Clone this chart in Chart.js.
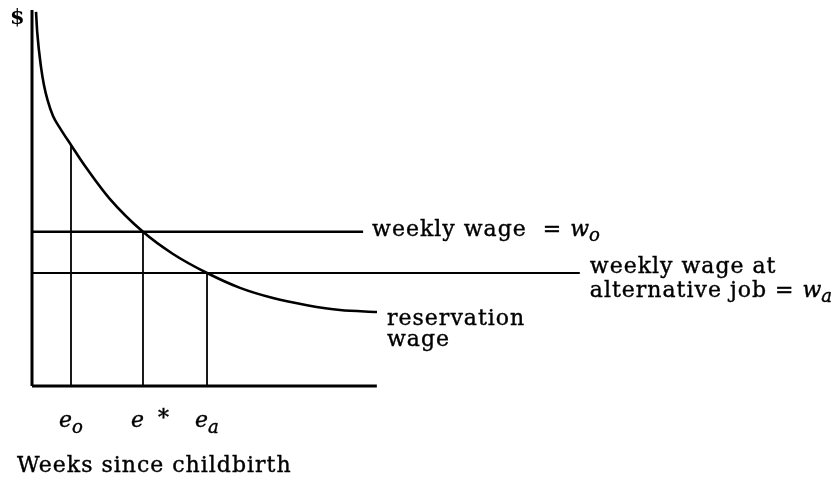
<!DOCTYPE html>
<html>
<head>
<meta charset="utf-8">
<script src="https://cdn.jsdelivr.net/npm/chart.js@4.4.0/dist/chart.umd.min.js"></script>
<style>
body { margin: 0; background: #fff; }
</style>
</head>
<body>
<canvas id="c_wage" width="838" height="482"></canvas>
<script>
// reservation wage curve, x = weeks since childbirth, y = $ (arbitrary units)
var curveWeeks = [0.73, 0.96, 1.64, 2.18, 2.82, 3.82, 5.09, 7.09, 9.64, 14.18, 20.18, 25.64, 31.82, 37.82, 43.82, 50.0, 56.0, 62.73];
var curveWage  = [99.5, 93.9, 84.8, 80.0, 76.1, 71.8, 68.6, 64.1, 58.5, 49.7, 41.0, 35.1, 30.05, 26.1, 23.4, 21.5, 20.2, 19.7];

// horizontal wage lines: w_o and w_a
var wageLevel = [41.0, 30.05];
var wageLineEnd = [60.2, 99.6];

// vertical drop lines at e_o, e*, e_a
var markWeeks = [7.09, 20.18, 31.82];
var markTop = [64.1, 41.0, 30.05];
var markNames = ["o", "*", "a"];

// axes
var xAxisEnd = 62.7;
var yAxisTop = 100;

var SERIF = "'DejaVu Serif', serif";
var FS = 22;

function seg(x0, y0, x1, y1, w) {
    return {
        data: [{x: x0, y: y0}, {x: x1, y: y1}],
        borderColor: "#000",
        borderWidth: w,
        pointRadius: 0,
        clip: false
    };
}

var datasets = [];
datasets.push(seg(0, 0, xAxisEnd, 0, 3));
datasets.push(seg(0, 0, 0, yAxisTop, 3));
for (var i = 0; i < wageLevel.length; i++) {
    datasets.push(seg(0, wageLevel[i], wageLineEnd[i], wageLevel[i], i == 0 ? 2.5 : 2));
}
for (var j = 0; j < markWeeks.length; j++) {
    datasets.push(seg(markWeeks[j], 0, markWeeks[j], markTop[j], 1.8));
}
datasets.push({
    data: curveWeeks.map(function(x, k) { return {x: x, y: curveWage[k]}; }),
    borderColor: "#000",
    borderWidth: 2.6,
    pointRadius: 0,
    cubicInterpolationMode: "monotone",
    clip: false
});

// draws a list of text runs [text, font, dy] one after another
function runs(ctx, x, y, parts, spacing) {
    ctx.textBaseline = "middle";
    ctx.textAlign = "left";
    ctx.strokeStyle = "#000";
    ctx.lineWidth = 0.4;
    parts.forEach(function(p) {
        ctx.font = p[1];
        ctx.letterSpacing = (p[1].indexOf("italic") < 0 ? spacing || "0px" : "0px");
        ctx.fillText(p[0], x, y + (p[2] || 0));
        ctx.strokeText(p[0], x, y + (p[2] || 0));
        x += ctx.measureText(p[0]).width;
    });
    ctx.letterSpacing = "0px";
}

var labels = {
    id: "labels",
    afterDatasetsDraw: function(chart) {
        var ctx = chart.ctx;
        var sx = chart.scales.x, sy = chart.scales.y;
        var reg = FS + "px " + SERIF;
        var it = "italic " + FS + "px " + SERIF;
        var itSub = "italic " + (FS - 4) + "px " + SERIF;
        var sp = "1px";
        ctx.save();
        ctx.fillStyle = "#000";

        runs(ctx, sx.getPixelForValue(wageLineEnd[0]) + 9, sy.getPixelForValue(wageLevel[0]) - 2,
            [["weekly wage  = ", reg], ["w", it], ["o", itSub, 6]], sp);

        var ax = sx.getPixelForValue(wageLineEnd[1]) + 10;
        var ay = sy.getPixelForValue(wageLevel[1]);
        runs(ctx, ax, ay - 6, [["weekly wage at", reg]], sp);
        runs(ctx, ax, ay + 18, [["alternative job = ", reg], ["w", it], ["a", itSub, 6]], sp);

        var cx = sx.getPixelForValue(curveWeeks[curveWeeks.length - 1]) + 10;
        var cy = sy.getPixelForValue(curveWage[curveWage.length - 1]);
        runs(ctx, cx, cy + 7, [["reservation", reg]], sp);
        runs(ctx, cx, cy + 28, [["wage", reg]], sp);

        var by = sy.getPixelForValue(0) + 35;
        for (var k = 0; k < markWeeks.length; k++) {
            var mx = sx.getPixelForValue(markWeeks[k]) - 12;
            if (markNames[k] == "*") {
                runs(ctx, mx, by, [["e", it], ["  *", reg, -2]]);
            } else {
                runs(ctx, mx, by, [["e", it], [markNames[k], itSub, 7]]);
            }
        }

        ctx.font = "bold 21px " + SERIF;
        ctx.textAlign = "left";
        ctx.textBaseline = "middle";
        ctx.fillText("$", 10, sy.getPixelForValue(yAxisTop) + 9);

        runs(ctx, 17, 466, [["Weeks since childbirth", reg]], sp);
        ctx.restore();
    }
};

new Chart(document.getElementById("c_wage"), {
    type: "line",
    data: { datasets: datasets },
    options: {
        responsive: false,
        animation: false,
        events: [],
        layout: { padding: { left: 32, right: 256, top: 10, bottom: 96 } },
        plugins: { legend: { display: false }, tooltip: { enabled: false } },
        scales: {
            x: { type: "linear", min: 0, max: 100, display: false },
            y: { type: "linear", min: 0, max: 100, display: false }
        }
    },
    plugins: [labels]
});
</script>
</body>
</html>
